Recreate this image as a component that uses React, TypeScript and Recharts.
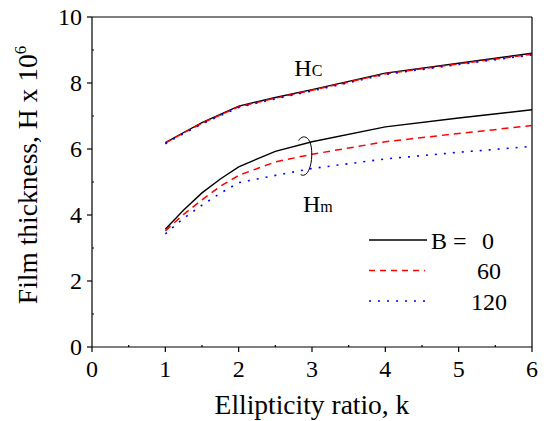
import React from 'react';
import { LineChart, Line, XAxis, YAxis, ReferenceLine, ReferenceDot } from 'recharts';

// ellipticity ratio k
const kValues = [1, 1.25, 1.5, 1.75, 2, 2.5, 3, 4, 5, 6];

// central film thickness Hc x 10^6
const hcB0 = [6.19, 6.5, 6.8, 7.05, 7.3, 7.56, 7.8, 8.3, 8.6, 8.9];
const hcB60 = [6.18, 6.49, 6.78, 7.03, 7.28, 7.54, 7.78, 8.28, 8.58, 8.87];
const hcB120 = [6.16, 6.47, 6.76, 7.01, 7.26, 7.52, 7.76, 8.26, 8.56, 8.85];

// minimum film thickness Hm x 10^6
const hmB0 = [3.57, 4.15, 4.67, 5.09, 5.46, 5.93, 6.22, 6.67, 6.94, 7.19];
const hmB60 = [3.52, 4.02, 4.46, 4.87, 5.2, 5.61, 5.84, 6.22, 6.47, 6.71];
const hmB120 = [3.43, 3.9, 4.3, 4.66, 4.98, 5.2, 5.41, 5.7, 5.9, 6.08];

const xTicks = [0, 0.5, 1, 1.5, 2, 2.5, 3, 3.5, 4, 4.5, 5, 5.5, 6];
const yTicks = [0, 1, 2, 3, 4, 5, 6, 7, 8, 9, 10];

const legendLabels = ['0', '60', '120'];
const legendColors = ['#000000', '#ff0000', '#0000ff'];
const legendDashes = [undefined, '6 5', '2 7'];

const data = kValues.map((k, i) => ({
  k,
  hc0: hcB0[i],
  hc60: hcB60[i],
  hc120: hcB120[i],
  hm0: hmB0[i],
  hm60: hmB60[i],
  hm120: hmB120[i],
}));

const FONT = 'Liberation Serif';

const XTick = (props: any) => {
  const { x, y, payload } = props;
  const major = Number.isInteger(payload.value);
  if (!major) {
    return <line x1={x} x2={x} y1={y} y2={y - 2} stroke="#000" strokeWidth={1.2} />;
  }
  return (
    <g>
      <line x1={x} x2={x} y1={y} y2={y + 5} stroke="#000" strokeWidth={1.2} />
      <text x={x} y={y + 30} textAnchor="middle" fontFamily={FONT} fontSize={24} fill="#000">
        {payload.value}
      </text>
    </g>
  );
};

const YTick = (props: any) => {
  const { x, y, payload } = props;
  const major = payload.value % 2 === 0;
  if (!major) {
    return <line x1={x} x2={x + 2} y1={y} y2={y} stroke="#000" strokeWidth={1.2} />;
  }
  return (
    <g>
      <line x1={x - 5} x2={x} y1={y} y2={y} stroke="#000" strokeWidth={1.2} />
      <text x={x - 10} y={y + 8} textAnchor="end" fontFamily={FONT} fontSize={24} fill="#000">
        {payload.value}
      </text>
    </g>
  );
};

const LegendBox = () => (
  <svg width={150} height={90} style={{ position: 'absolute', left: 369, top: 228 }}>
    {legendLabels.map((label, i) => (
      <g key={label}>
        <line
          x1={0}
          x2={i === 0 ? 58 : 56}
          y1={12 + i * 30.5}
          y2={12 + i * 30.5}
          stroke={legendColors[i]}
          strokeWidth={1.5}
          strokeDasharray={legendDashes[i]}
        />
        {i === 0 && (
          <text x={62} y={20.5} fontFamily={FONT} fontSize={24} fill="#000">
            B =
          </text>
        )}
        <text
          x={i === 0 ? 125 : i === 1 ? 132 : 138}
          y={20.5 + i * 30.5}
          textAnchor="end"
          fontFamily={FONT}
          fontSize={24}
          fill="#000"
        >
          {label}
        </text>
      </g>
    ))}
  </svg>
);

const Ellipse = (props: any) => {
  const { cx, cy } = props;
  return (
    <path
      d={`M ${cx - 6} ${cy - 16} C ${cx - 3} ${cy - 22}, ${cx + 6} ${cy - 22}, ${cx + 7} ${cy - 6} C ${cx + 8} ${cy + 8}, ${cx + 3} ${cy + 22}, ${cx - 4} ${cy + 18}`}
      fill="none"
      stroke="#000"
      strokeWidth={1}
    />
  );
};

const SubLabel = (main: string, sub: string) => (props: any) => {
  const { cx, cy } = props;
  return (
    <text x={cx} y={cy} textAnchor="middle" fontFamily={FONT} fill="#000">
      <tspan fontSize={24}>{main}</tspan>
      <tspan fontSize={16}>{sub}</tspan>
    </text>
  );
};

export default function App() {
  return (
    <div style={{ position: 'absolute', left: 0, top: 0, width: 546, height: 421, background: '#fff' }}>
      <LineChart width={546} height={421} data={data} margin={{ top: 17, right: 14, bottom: 0, left: 32 }}>
        <XAxis
          dataKey="k"
          type="number"
          domain={[0, 6]}
          ticks={xTicks}
          interval={0}
          tickSize={0}
          tickMargin={0}
          tickLine={false}
          tick={<XTick />}
          height={74}
          axisLine={{ stroke: '#000', strokeWidth: 1.2 }}
          label={{
            value: 'Ellipticity ratio, k',
            position: 'insideBottom',
            offset: 7,
            fontSize: 27.5,
            fontFamily: FONT,
            fill: '#000',
          }}
        />
        <YAxis
          type="number"
          domain={[0, 10]}
          ticks={yTicks}
          interval={0}
          tickSize={0}
          tickMargin={0}
          tickLine={false}
          tick={<YTick />}
          width={60}
          axisLine={{ stroke: '#000', strokeWidth: 1.2 }}
          label={(p: any) => {
            const vb = p.viewBox;
            const cx = vb.x + 5;
            const cy = vb.y + vb.height / 2 - 7;
            return (
              <text
                x={cx}
                y={cy}
                transform={`rotate(-90 ${cx} ${cy})`}
                textAnchor="middle"
                fontSize={27.5}
                fontFamily={FONT}
                fill="#000"
              >
                Film thickness, H x 10<tspan fontSize={17} dy={-11}>6</tspan>
              </text>
            );
          }}
        />
        <ReferenceLine y={10} stroke="#000" strokeWidth={1.2} />
        <ReferenceLine x={6} stroke="#000" strokeWidth={1.2} />
        <Line dataKey="hc0" stroke="#000" strokeWidth={1.4} dot={false} isAnimationActive={false} />
        <Line dataKey="hc60" stroke="#ff0000" strokeWidth={1.5} strokeDasharray="7 4" dot={false} isAnimationActive={false} />
        <Line dataKey="hc120" stroke="#0000ff" strokeWidth={1.6} strokeDasharray="2 7" dot={false} isAnimationActive={false} />
        <Line dataKey="hm0" stroke="#000" strokeWidth={1.4} dot={false} isAnimationActive={false} />
        <Line dataKey="hm60" stroke="#ff0000" strokeWidth={1.5} strokeDasharray="7 5" dot={false} isAnimationActive={false} />
        <Line dataKey="hm120" stroke="#0000ff" strokeWidth={1.6} strokeDasharray="2 7" dot={false} isAnimationActive={false} />
        <ReferenceDot x={2.9} y={5.77} r={0} shape={Ellipse} />
        <ReferenceDot x={2.95} y={8.2} r={0} shape={SubLabel('H', 'C')} />
        <ReferenceDot x={3.08} y={4.1} r={0} shape={SubLabel('H', 'm')} />
      </LineChart>
      <LegendBox />
    </div>
  );
}
